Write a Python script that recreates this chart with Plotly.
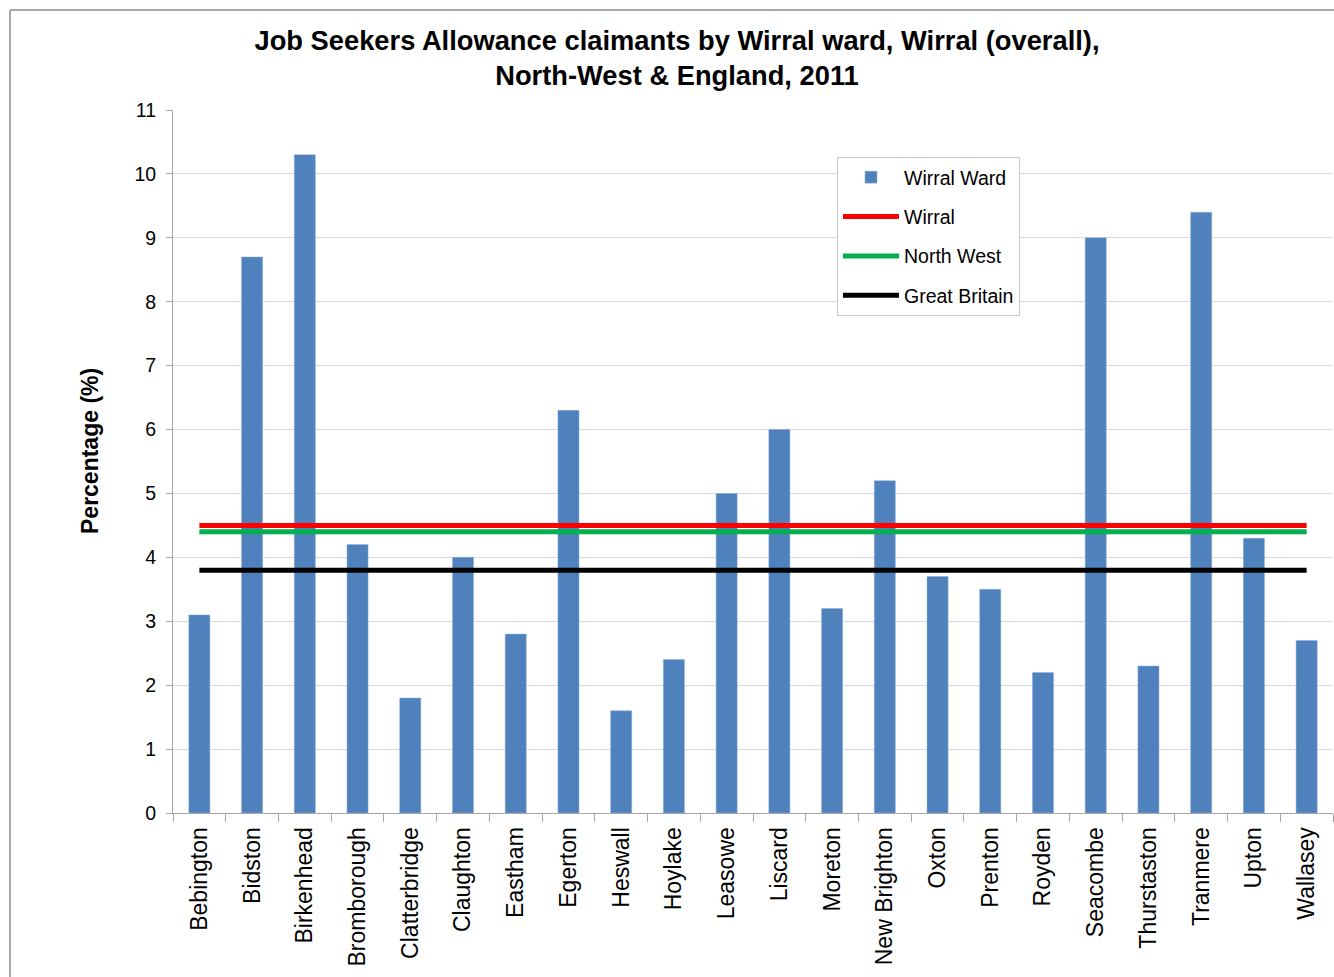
import plotly.graph_objects as go

wards = ["Bebington", "Bidston", "Birkenhead", "Bromborough", "Clatterbridge", "Claughton",
         "Eastham", "Egerton", "Heswall", "Hoylake", "Leasowe", "Liscard", "Moreton",
         "New Brighton", "Oxton", "Prenton", "Royden", "Seacombe", "Thurstaston",
         "Tranmere", "Upton", "Wallasey"]
ward_values = [3.1, 8.7, 10.3, 4.2, 1.8, 4.0, 2.8, 6.3, 1.6, 2.4, 5.0, 6.0, 3.2,
               5.2, 3.7, 3.5, 2.2, 9.0, 2.3, 9.4, 4.3, 2.7]
wirral_value = 4.5
north_west_value = 4.4
great_britain_value = 3.8

W, H = 1334, 977
L, R, T, B = 173, 1, 110, 164
pw = W - L - R
ph = H - T - B

font_family = "Liberation Sans, Arial, sans-serif"

fig = go.Figure()
fig.add_trace(go.Bar(x=wards, y=ward_values, name="Wirral Ward",
                     marker=dict(color="#4F81BD", line=dict(color="#8fb0d9", width=0.5)),
                     legendgroup="a"))
for name, val, col, g in [("Wirral", wirral_value, "#FF0000", "b"),
                          ("North West", north_west_value, "#00B050", "c"),
                          ("Great Britain", great_britain_value, "#000000", "d")]:
    fig.add_trace(go.Scatter(x=wards, y=[val] * len(wards), mode="lines", name=name,
                             line=dict(color=col, width=5), legendgroup=g))

def px_x(x):
    return (x - L) / pw

def px_y(y):
    return (H - B - y) / ph

fig.update_layout(
    width=W, height=H,
    margin=dict(l=L, r=R, t=T, b=B, autoexpand=False),
    paper_bgcolor="white", plot_bgcolor="white",
    font=dict(family=font_family, color="#000000"),
    bargap=0.6,
    title=dict(text="<b>Job Seekers Allowance claimants by Wirral ward, Wirral (overall),<br>North-West &amp; England, 2011</b>",
               x=677 / W, xanchor="center", xref="container",
               y=1 - 50 / H, yanchor="top", yref="container",
               font=dict(size=27.3, family=font_family, color="#000000")),
    xaxis=dict(showgrid=False, showline=True, linecolor="#a6a6a6", linewidth=1,
               ticks="outside", tickson="boundaries", ticklen=8, tickcolor="#a6a6a6",
               tickangle=-90, tickfont=dict(size=23, color="#000000"), ticklabelstandoff=4,
               range=[-0.5, len(wards) - 0.5]),
    yaxis=dict(range=[0, 11], dtick=1, showgrid=True, gridcolor="#d9d9d9", gridwidth=1,
               showline=True, linecolor="#a6a6a6", linewidth=1,
               ticks="outside", ticklen=6, tickcolor="#a6a6a6", ticklabelstandoff=6,
               tickfont=dict(size=19.5, color="#000000"), zeroline=False),
    annotations=[dict(text="<b>Percentage (%)</b>", xref="paper", yref="paper",
                      x=px_x(90), y=px_y(451), xanchor="center", yanchor="middle",
                      textangle=-90, showarrow=False,
                      font=dict(size=23, family=font_family, color="#000000"))],
    legend=dict(x=px_x(837), y=px_y(157), xanchor="left", yanchor="top",
                bgcolor="white", bordercolor="#c8c8c8", borderwidth=1,
                font=dict(size=19.5, color="#000000"), tracegroupgap=11,
                itemwidth=56),
    showlegend=True,
    shapes=[
        dict(type="line", xref="paper", yref="paper", x0=px_x(10), x1=px_x(1340),
             y0=px_y(10), y1=px_y(10), line=dict(color="#8c8c8c", width=1.5)),
        dict(type="line", xref="paper", yref="paper", x0=px_x(10), x1=px_x(10),
             y0=px_y(10), y1=px_y(990), line=dict(color="#8c8c8c", width=1.5)),
    ],
)

fig.write_html("out.html")
